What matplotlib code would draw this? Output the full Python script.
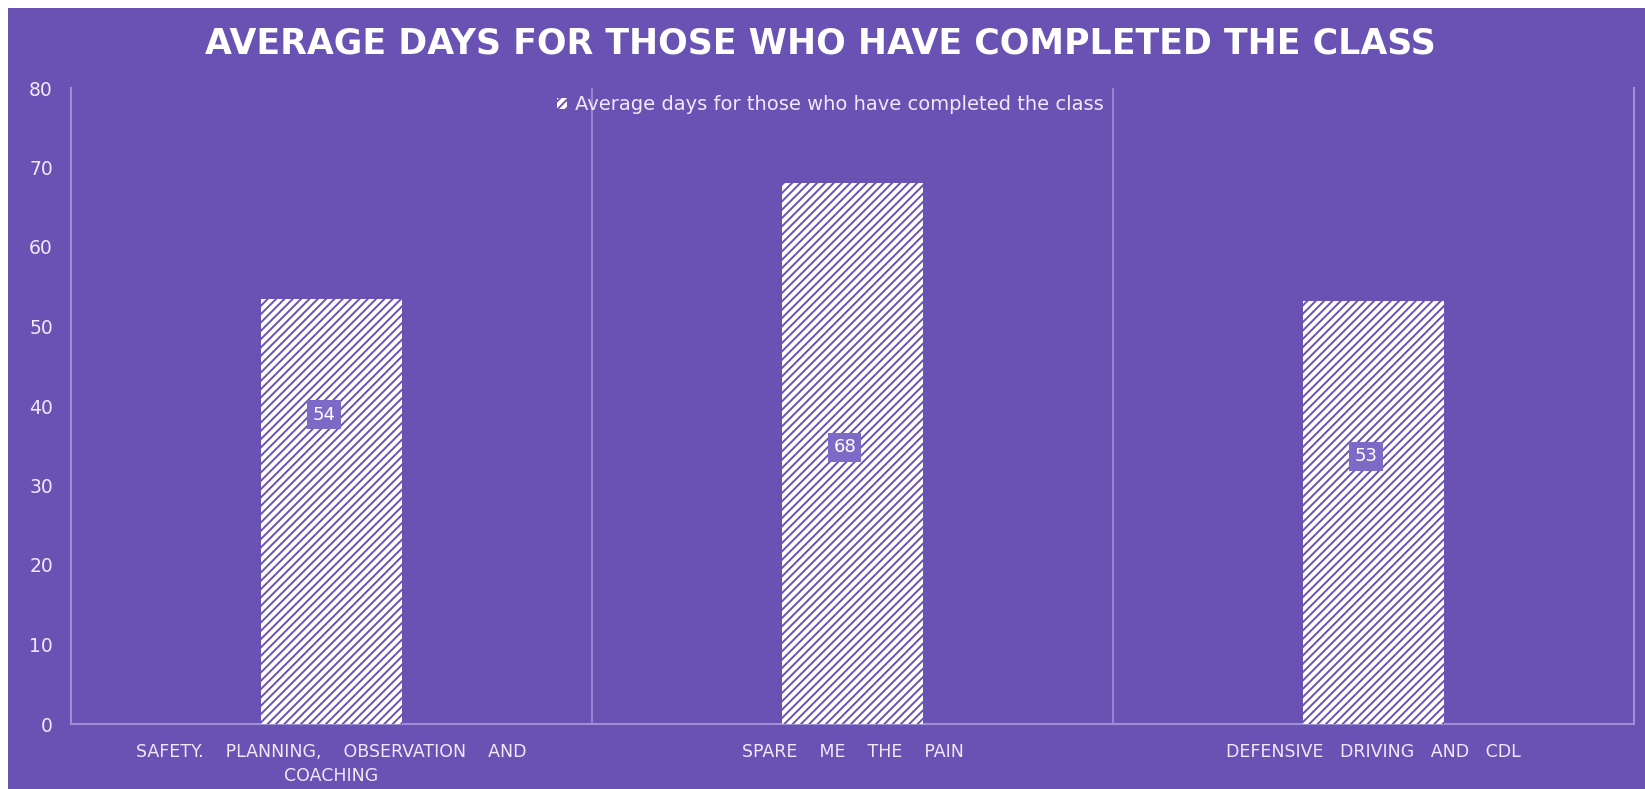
import numpy as np
import matplotlib as mpl
import matplotlib.pyplot as plt
from matplotlib.patches import Rectangle

mpl.rcParams['font.family'] = ['DejaVu Sans']
mpl.rcParams['hatch.linewidth'] = 1.4

# data
categories = ['SAFETY.    PLANNING,    OBSERVATION    AND\nCOACHING',
              'SPARE    ME    THE    PAIN',
              'DEFENSIVE   DRIVING   AND   CDL']
avg_days = [53.5, 68.0, 53.2]
value_labels = ['54', '68', '53']
series_name = 'Average days for those who have completed the class'
title = 'AVERAGE DAYS FOR THOSE WHO HAVE COMPLETED THE CLASS'

purple = '#6a52b4'
line_col = '#9d90d6'
text_col = '#eeeaf8'

fig = plt.figure(figsize=(16.45, 7.89), dpi=100)
fig.patch.set_facecolor('white')
# purple panel (thin white strip on top and left)
panel = Rectangle((8 / 1645, 0), 1 - 8 / 1645, 1 - 8 / 789,
                  transform=fig.transFigure, facecolor=purple,
                  edgecolor='none', zorder=-10)
fig.add_artist(panel)

ax = fig.add_axes([71 / 1645, 1 - 724 / 789, (1634 - 71) / 1645, (724 - 88) / 789])
ax.set_facecolor(purple)

x = np.arange(len(categories))
bars = ax.bar(x, avg_days, width=0.27, color='white', edgecolor=purple,
              linewidth=0, hatch='////', label=series_name, zorder=3)

# data labels sit partway down each bar (as in the source)
label_pos = [38.9, 34.8, 33.7]
for xi, yi, lab in zip(x, label_pos, value_labels):
    ax.text(xi - 0.015, yi, lab, ha='center', va='center', fontsize=13,
            color='white', zorder=5,
            bbox=dict(boxstyle='square,pad=0.3', facecolor='#7d6ac6', edgecolor='none'))

ax.set_xlim(-0.5, 2.5)
ax.set_ylim(0, 80)
ax.set_yticks(np.arange(0, 81, 10))
ax.set_xticks(x)
ax.set_xticklabels(categories, fontsize=12.5, color=text_col, linespacing=1.4)
ax.tick_params(axis='x', length=0, pad=14)
ax.tick_params(axis='y', length=0, pad=13, labelsize=13.5, labelcolor=text_col)

ax.set_xticks([0.5, 1.5], minor=True)
ax.tick_params(axis='x', which='minor', length=0)
ax.grid(which='minor', axis='x', color=line_col, linewidth=1.2)
ax.grid(which='major', visible=False)

for s in ['left', 'bottom', 'right']:
    ax.spines[s].set_color(line_col)
    ax.spines[s].set_linewidth(1.5)
ax.spines['top'].set_visible(False)

leg = ax.legend(loc='upper center', bbox_to_anchor=(0.486, 1.016), frameon=False,
                fontsize=14, handlelength=0.5, handleheight=0.5, handletextpad=0.4)
for t in leg.get_texts():
    t.set_color(text_col)

fig.text(820 / 1645, 1 - 43 / 789, title, ha='center', va='center',
         fontsize=25, fontweight='bold', color='white')

fig.savefig('out.png', dpi=100, facecolor=fig.get_facecolor())
